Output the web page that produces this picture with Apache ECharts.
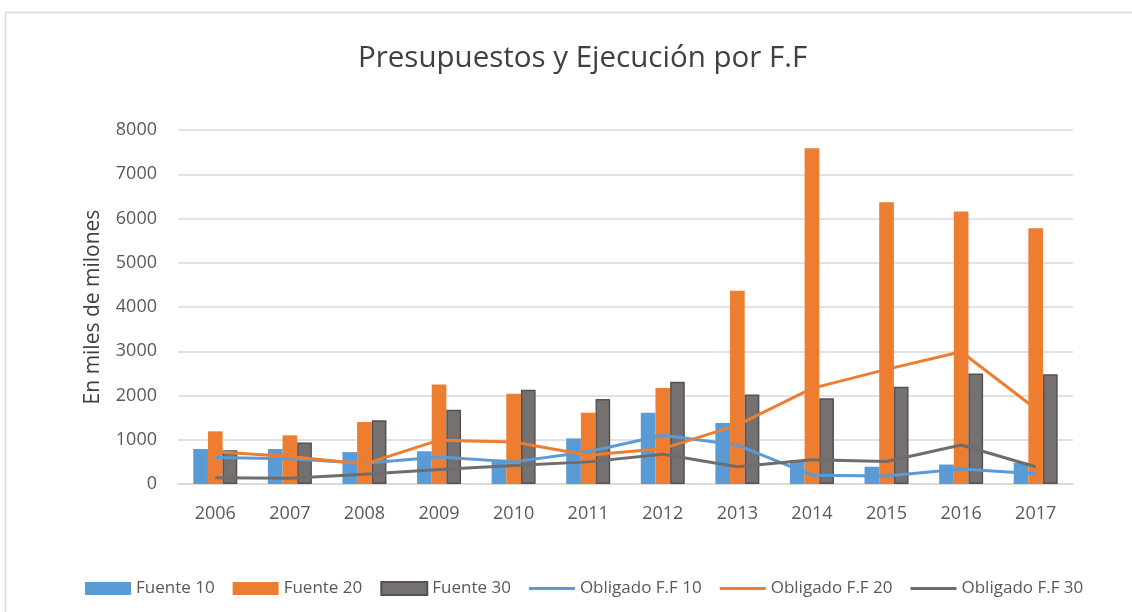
<!DOCTYPE html>
<html>
<head>
<meta charset="utf-8">
<script src="https://cdn.jsdelivr.net/npm/echarts@6/dist/echarts.min.js"></script>
<style>
html,body{margin:0;padding:0;background:#fff;}
#chart{width:1132px;height:612px;}
</style>
</head>
<body>
<div id="chart"></div>
<script>
const years = ['2006','2007','2008','2009','2010','2011','2012','2013','2014','2015','2016','2017'];
const fuente10 = [790, 790, 720, 740, 550, 1030, 1610, 1380, 540, 390, 440, 480];
const fuente20 = [1190, 1100, 1400, 2250, 2040, 1610, 2170, 4370, 7590, 6370, 6160, 5780];
const fuente30 = [760, 940, 1440, 1680, 2130, 1920, 2310, 2020, 1940, 2200, 2500, 2480];
const obligado10 = [600, 570, 470, 610, 500, 730, 1100, 880, 200, 180, 340, 230];
const obligado20 = [730, 620, 450, 990, 950, 650, 800, 1330, 2160, 2590, 2990, 1700];
const obligado30 = [140, 130, 220, 330, 420, 500, 670, 390, 550, 510, 880, 390];
const yTicks = [0, 1000, 2000, 3000, 4000, 5000, 6000, 7000, 8000];

const FONT = '"Open Sans", "Noto Sans", sans-serif';
const LINE_ICON = 'path://M0 0 L46 0 L46 0.05 L0 0.05 Z M0 5 L46 5 L46 8 L0 8 Z M0 12.95 L46 12.95 L46 13 L0 13 Z';
const chart = echarts.init(document.getElementById('chart'), null, {renderer: 'canvas'});
const barBase = {type: 'bar', barGap: '0%', barCategoryGap: '41%'};
const lineBase = {type: 'line', symbol: 'none', z: 5};
chart.setOption({
  animation: false,
  backgroundColor: '#fff',
  graphic: [{type: 'rect', shape: {x: 5.5, y: 12.5, width: 1140, height: 640}, style: {fill: 'none', stroke: '#d9d9d9', lineWidth: 1.5}, silent: true, z: -10}],
  title: {
    text: 'Presupuestos y Ejecución por F.F', left: 353, top: 39,
    textStyle: {fontFamily: FONT, fontSize: 29.5, fontWeight: 'normal', color: '#404040'}
  },
  legend: {
    bottom: 10, left: 80, itemGap: 18, itemWidth: 46, itemHeight: 13,
    textStyle: {fontFamily: FONT, fontSize: 17, color: '#595959'},
    data: [
      {name: 'Fuente 10', icon: 'rect'}, {name: 'Fuente 20', icon: 'rect'}, {name: 'Fuente 30', icon: 'rect'},
      {name: 'Obligado F.F 10', icon: LINE_ICON}, {name: 'Obligado F.F 20', icon: LINE_ICON}, {name: 'Obligado F.F 30', icon: LINE_ICON}
    ]
  },
  grid: {left: 178, right: 59, top: 130, bottom: 128},
  xAxis: {
    type: 'category', data: years,
    axisLine: {lineStyle: {color: '#d9d9d9', width: 1.5}},
    axisTick: {show: false},
    axisLabel: {fontFamily: FONT, fontSize: 18, color: '#595959', margin: 21}
  },
  yAxis: {
    type: 'value', min: yTicks[0], max: yTicks[yTicks.length - 1], interval: 1000,
    name: 'En miles de milones', nameLocation: 'middle', nameRotate: 90, nameGap: 74,
    nameTextStyle: {fontFamily: FONT, fontSize: 21, color: '#404040'},
    axisLine: {show: false}, axisTick: {show: false},
    axisLabel: {fontFamily: FONT, fontSize: 18, color: '#595959', margin: 21, formatter: v => String(v)},
    splitLine: {lineStyle: {color: '#d9d9d9', width: 1.5}}
  },
  series: [
    Object.assign({}, barBase, {name: 'Fuente 10', data: fuente10, itemStyle: {color: '#5B9BD5'}}),
    Object.assign({}, barBase, {name: 'Fuente 20', data: fuente20, itemStyle: {color: '#ED7D31'}}),
    Object.assign({}, barBase, {name: 'Fuente 30', data: fuente30, itemStyle: {color: '#767171', borderColor: '#555252', borderWidth: 1.5}}),
    Object.assign({}, lineBase, {name: 'Obligado F.F 10', data: obligado10, itemStyle: {color: '#5B9BD5'}, lineStyle: {width: 3, color: '#5B9BD5'}}),
    Object.assign({}, lineBase, {name: 'Obligado F.F 20', data: obligado20, itemStyle: {color: '#ED7D31'}, lineStyle: {width: 3, color: '#ED7D31'}}),
    Object.assign({}, lineBase, {name: 'Obligado F.F 30', data: obligado30, itemStyle: {color: '#6F6C6C'}, lineStyle: {width: 3, color: '#6F6C6C'}})
  ]
});
</script>
</body>
</html>
